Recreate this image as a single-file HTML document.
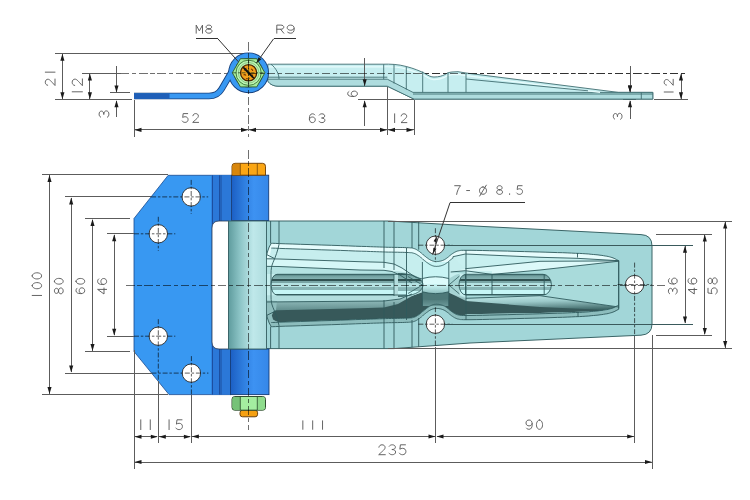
<!DOCTYPE html><html><head><meta charset="utf-8"><style>html,body{margin:0;padding:0;background:#fff;overflow:hidden}svg{display:block}</style></head><body>
<svg width="750" height="500" viewBox="0 0 750 500">
<rect width="750" height="500" fill="#fff"/>
<defs>
<linearGradient id="kn" x1="0" x2="1" y1="0" y2="0"><stop offset="0" stop-color="#1c5fc4"/><stop offset="0.35" stop-color="#2f7fe0"/><stop offset="0.6" stop-color="#3d92f2"/><stop offset="1" stop-color="#3587e8"/></linearGradient>
<linearGradient id="knc" x1="0" x2="1" y1="0" y2="0"><stop offset="0" stop-color="#5f9c9e"/><stop offset="0.3" stop-color="#8cc4c6"/><stop offset="0.65" stop-color="#bfe8ea"/><stop offset="1" stop-color="#aedcde"/></linearGradient>
</defs>
<line x1="55" y1="53.3" x2="248" y2="53.3" stroke="#5c5c5c" stroke-width="1.0"  shape-rendering="crispEdges"/>
<line x1="82.4" y1="73" x2="120.8" y2="73" stroke="#5c5c5c" stroke-width="1.0"  shape-rendering="crispEdges"/>
<line x1="120.8" y1="73" x2="688" y2="73" stroke="#000" stroke-width="1.0" stroke-dasharray="8.5 2.8 4.2 2.8" stroke-opacity="0.56" shape-rendering="crispEdges"/>
<line x1="55" y1="99.7" x2="132" y2="99.7" stroke="#5c5c5c" stroke-width="1.0"  shape-rendering="crispEdges"/>
<line x1="109.6" y1="92.7" x2="130.4" y2="92.7" stroke="#5c5c5c" stroke-width="1.0"  shape-rendering="crispEdges"/>
<line x1="62.4" y1="54" x2="62.4" y2="99" stroke="#5c5c5c" stroke-width="1.0"  shape-rendering="crispEdges"/>
<path d="M62.40,53.80 L64.45,60.80 L60.35,60.80 Z" fill="#1a1a1a"/>
<path d="M62.40,99.20 L60.35,92.20 L64.45,92.20 Z" fill="#1a1a1a"/>
<line x1="89.9" y1="73.5" x2="89.9" y2="99" stroke="#5c5c5c" stroke-width="1.0"  shape-rendering="crispEdges"/>
<path d="M89.90,73.50 L91.95,80.50 L87.85,80.50 Z" fill="#1a1a1a"/>
<path d="M89.90,99.20 L87.85,92.20 L91.95,92.20 Z" fill="#1a1a1a"/>
<line x1="116.5" y1="65.8" x2="116.5" y2="92" stroke="#5c5c5c" stroke-width="1.0"  shape-rendering="crispEdges"/>
<path d="M116.50,92.50 L114.45,85.50 L118.55,85.50 Z" fill="#1a1a1a"/>
<line x1="116.5" y1="100.5" x2="116.5" y2="117" stroke="#5c5c5c" stroke-width="1.0"  shape-rendering="crispEdges"/>
<path d="M116.50,100.20 L118.55,107.20 L114.45,107.20 Z" fill="#1a1a1a"/>
<g fill="none" stroke="#5c5c5c" stroke-width="0.95" stroke-linecap="round" stroke-linejoin="round" transform="translate(45.30,85.50) rotate(-90)">
<path transform="translate(0.00,0) scale(1.078,1.078)" d="M0.2,2.2 C0.5,0.5 1.8,0 3,0 C4.6,0 5.8,0.9 5.8,2.4 C5.8,4.2 4,5.2 0,9 H6" vector-effect="non-scaling-stroke"/>
<path transform="translate(10.10,0) scale(1.078,1.078)" d="M3,0 V9" vector-effect="non-scaling-stroke"/>
</g>
<g fill="none" stroke="#5c5c5c" stroke-width="0.95" stroke-linecap="round" stroke-linejoin="round" transform="translate(72.20,95.20) rotate(-90)">
<path transform="translate(0.00,0) scale(1.133,1.133)" d="M3,0 V9" vector-effect="non-scaling-stroke"/>
<path transform="translate(9.50,0) scale(1.133,1.133)" d="M0.2,2.2 C0.5,0.5 1.8,0 3,0 C4.6,0 5.8,0.9 5.8,2.4 C5.8,4.2 4,5.2 0,9 H6" vector-effect="non-scaling-stroke"/>
</g>
<g fill="none" stroke="#5c5c5c" stroke-width="0.95" stroke-linecap="round" stroke-linejoin="round" transform="translate(99.10,117.30) rotate(-90)">
<path transform="translate(0.00,0) scale(1.067,1.089)" d="M0.2,1.3 C0.8,0.4 1.8,0 3,0 C4.8,0 5.8,1 5.8,2.2 C5.8,3.5 4.6,4.3 2.6,4.3 C4.8,4.3 6,5.2 6,6.6 C6,8.1 4.7,9 3,9 C1.6,9 0.6,8.5 0,7.6" vector-effect="non-scaling-stroke"/>
</g>
<line x1="134.1" y1="100" x2="134.1" y2="136.5" stroke="#5c5c5c" stroke-width="1.0"  shape-rendering="crispEdges"/>
<line x1="387.6" y1="86" x2="387.6" y2="135" stroke="#5c5c5c" stroke-width="1.0"  shape-rendering="crispEdges"/>
<line x1="414" y1="99.5" x2="414" y2="135" stroke="#5c5c5c" stroke-width="1.0"  shape-rendering="crispEdges"/>
<line x1="134.5" y1="129.9" x2="248" y2="129.9" stroke="#5c5c5c" stroke-width="1.0"  shape-rendering="crispEdges"/>
<path d="M134.50,129.90 L141.50,127.85 L141.50,131.95 Z" fill="#1a1a1a"/>
<path d="M248.00,129.90 L241.00,131.95 L241.00,127.85 Z" fill="#1a1a1a"/>
<line x1="249" y1="129.9" x2="387" y2="129.9" stroke="#5c5c5c" stroke-width="1.0"  shape-rendering="crispEdges"/>
<path d="M249.00,129.90 L256.00,127.85 L256.00,131.95 Z" fill="#1a1a1a"/>
<path d="M387.00,129.90 L380.00,131.95 L380.00,127.85 Z" fill="#1a1a1a"/>
<line x1="388" y1="129.9" x2="413.5" y2="129.9" stroke="#5c5c5c" stroke-width="1.0"  shape-rendering="crispEdges"/>
<path d="M388.00,129.90 L395.00,127.85 L395.00,131.95 Z" fill="#1a1a1a"/>
<path d="M413.50,129.90 L406.50,131.95 L406.50,127.85 Z" fill="#1a1a1a"/>
<g fill="none" stroke="#5c5c5c" stroke-width="0.95" stroke-linecap="round" stroke-linejoin="round" transform="translate(182.20,113.60)">
<path transform="translate(0.00,0) scale(0.978,0.978)" d="M5.6,0 H1 L0.5,4 C1.2,3.5 2,3.2 3,3.2 C4.8,3.2 6,4.4 6,6.1 C6,7.9 4.7,9 3,9 C1.6,9 0.6,8.5 0,7.6" vector-effect="non-scaling-stroke"/>
<path transform="translate(10.50,0) scale(0.978,0.978)" d="M0.2,2.2 C0.5,0.5 1.8,0 3,0 C4.6,0 5.8,0.9 5.8,2.4 C5.8,4.2 4,5.2 0,9 H6" vector-effect="non-scaling-stroke"/>
</g>
<g fill="none" stroke="#5c5c5c" stroke-width="0.95" stroke-linecap="round" stroke-linejoin="round" transform="translate(309.40,113.80)">
<path transform="translate(0.00,0) scale(0.978,0.978)" d="M5.6,1.1 C5,0.4 4.1,0 3,0 C1,0 0,1.9 0,4.8 C0,7.5 1,9 3,9 C4.8,9 6,7.8 6,6.1 C6,4.4 4.8,3.3 3,3.3 C1.4,3.3 0.3,4.3 0,5.5" vector-effect="non-scaling-stroke"/>
<path transform="translate(9.60,0) scale(0.978,0.978)" d="M0.2,1.3 C0.8,0.4 1.8,0 3,0 C4.8,0 5.8,1 5.8,2.2 C5.8,3.5 4.6,4.3 2.6,4.3 C4.8,4.3 6,5.2 6,6.6 C6,8.1 4.7,9 3,9 C1.6,9 0.6,8.5 0,7.6" vector-effect="non-scaling-stroke"/>
</g>
<g fill="none" stroke="#5c5c5c" stroke-width="0.95" stroke-linecap="round" stroke-linejoin="round" transform="translate(391.70,113.80)">
<path transform="translate(0.00,0) scale(0.978,0.978)" d="M3,0 V9" vector-effect="non-scaling-stroke"/>
<path transform="translate(9.30,0) scale(0.978,0.978)" d="M0.2,2.2 C0.5,0.5 1.8,0 3,0 C4.6,0 5.8,0.9 5.8,2.4 C5.8,4.2 4,5.2 0,9 H6" vector-effect="non-scaling-stroke"/>
</g>
<line x1="364.7" y1="58.3" x2="364.7" y2="86" stroke="#5c5c5c" stroke-width="1.0"  shape-rendering="crispEdges"/>
<path d="M364.70,86.30 L362.65,79.30 L366.75,79.30 Z" fill="#1a1a1a"/>
<line x1="357.6" y1="99.5" x2="414" y2="99.5" stroke="#5c5c5c" stroke-width="1.0"  shape-rendering="crispEdges"/>
<line x1="364.7" y1="100.5" x2="364.7" y2="126" stroke="#5c5c5c" stroke-width="1.0"  shape-rendering="crispEdges"/>
<path d="M364.70,100.20 L366.75,107.20 L362.65,107.20 Z" fill="#1a1a1a"/>
<g fill="none" stroke="#5c5c5c" stroke-width="0.95" stroke-linecap="round" stroke-linejoin="round" transform="translate(347.70,96.50) rotate(-90)">
<path transform="translate(0.00,0) scale(0.900,1.078)" d="M5.6,1.1 C5,0.4 4.1,0 3,0 C1,0 0,1.9 0,4.8 C0,7.5 1,9 3,9 C4.8,9 6,7.8 6,6.1 C6,4.4 4.8,3.3 3,3.3 C1.4,3.3 0.3,4.3 0,5.5" vector-effect="non-scaling-stroke"/>
</g>
<line x1="623" y1="99.4" x2="636" y2="99.4" stroke="#5c5c5c" stroke-width="1.0"  shape-rendering="crispEdges"/>
<line x1="630" y1="66" x2="630" y2="92" stroke="#5c5c5c" stroke-width="1.0"  shape-rendering="crispEdges"/>
<path d="M630.00,92.60 L627.95,85.60 L632.05,85.60 Z" fill="#1a1a1a"/>
<line x1="630" y1="100.5" x2="630" y2="119" stroke="#5c5c5c" stroke-width="1.0"  shape-rendering="crispEdges"/>
<path d="M630.00,100.20 L632.05,107.20 L627.95,107.20 Z" fill="#1a1a1a"/>
<g fill="none" stroke="#5c5c5c" stroke-width="0.95" stroke-linecap="round" stroke-linejoin="round" transform="translate(613.30,119.30) rotate(-90)">
<path transform="translate(0.00,0) scale(1.000,0.967)" d="M0.2,1.3 C0.8,0.4 1.8,0 3,0 C4.8,0 5.8,1 5.8,2.2 C5.8,3.5 4.6,4.3 2.6,4.3 C4.8,4.3 6,5.2 6,6.6 C6,8.1 4.7,9 3,9 C1.6,9 0.6,8.5 0,7.6" vector-effect="non-scaling-stroke"/>
</g>
<line x1="654" y1="99.4" x2="688" y2="99.4" stroke="#5c5c5c" stroke-width="1.0"  shape-rendering="crispEdges"/>
<line x1="681" y1="73.5" x2="681" y2="99" stroke="#5c5c5c" stroke-width="1.0"  shape-rendering="crispEdges"/>
<path d="M681.00,73.50 L683.05,80.50 L678.95,80.50 Z" fill="#1a1a1a"/>
<path d="M681.00,99.20 L678.95,92.20 L683.05,92.20 Z" fill="#1a1a1a"/>
<g fill="none" stroke="#5c5c5c" stroke-width="0.95" stroke-linecap="round" stroke-linejoin="round" transform="translate(664.20,95.00) rotate(-90)">
<path transform="translate(0.00,0) scale(1.000,1.000)" d="M3,0 V9" vector-effect="non-scaling-stroke"/>
<path transform="translate(9.70,0) scale(1.000,1.000)" d="M0.2,2.2 C0.5,0.5 1.8,0 3,0 C4.6,0 5.8,0.9 5.8,2.4 C5.8,4.2 4,5.2 0,9 H6" vector-effect="non-scaling-stroke"/>
</g>
<path d="M267.8,64.2 H383.3 C390,64 398,64.2 406.3,66.5 C414,68.5 420,71 425,73.5 C429,76 431,77 434,77 C439,77 442,76 445,74.5 C447,73 449,72.3 452,72 L458,71.7 L466,73 L618.4,92.4 H652.8 V99.1 H414 L387.3,86.2 H278 C272,86 268.5,83 267.8,80.6 Z" fill="#c6eef0" stroke="#3f6d70" stroke-width="0.9" stroke-linejoin="round"/>
<path d="M267.8,79.2 H387.3 L413,92.4 H652.8 V99.1 H414 L387.3,86.2 H278 C272,86 268.5,83 267.8,80.6 Z" fill="#aedcde" stroke="#3f6d70" stroke-width="0.9" stroke-linejoin="round"/>
<path d="M269,66.8 H383.3 C390,66.6 398,66.8 406.3,69.1 C414,71 420,73.6 425,76 C429,78.6 431,79.6 434,79.6 C439,79.6 442,78.6 445,77.1 C447,75.6 449,74.9 452,74.6 L458,74.3 L466,75.6 L600,92.4" fill="none" stroke="#e8fcfc" stroke-width="1.2"/>
<path d="M268,77.2 H387.3 M413,94 H652.8 M466,79 L588,90.8 M383.7,64.2 V79.2 M394,64.4 V83.5 M406.3,66.5 V89.6 M422.7,71.5 V92.4 M448,72.6 V92.4 M466,73 V92.4 M641.3,92.4 V99.1 M271,64.2 C276,68 279,74 279,79" fill="none" stroke="#3f6d70" stroke-width="0.9" stroke-linejoin="round"/>
<line x1="364.7" y1="58.3" x2="364.7" y2="86" stroke="#5c5c5c" stroke-width="1.0"  shape-rendering="crispEdges"/>
<path d="M364.70,86.30 L362.65,79.30 L366.75,79.30 Z" fill="#1a1a1a"/>
<line x1="630" y1="66" x2="630" y2="92" stroke="#5c5c5c" stroke-width="1.0"  shape-rendering="crispEdges"/>
<path d="M630.00,92.60 L627.95,85.60 L632.05,85.60 Z" fill="#1a1a1a"/>
<path d="M134,96 H209 Q217.5,96 221.5,89.2 L236,64.5" fill="none" stroke="#173f7a" stroke-width="6.6"/>
<circle cx="248.6" cy="72.8" r="17.1" fill="none" stroke="#173f7a" stroke-width="6.6"/>
<path d="M134,96 H209 Q217.5,96 221.5,89.2 L236,64.5" fill="none" stroke="#3898f2" stroke-width="4.8"/>
<circle cx="248.6" cy="72.8" r="17.1" fill="none" stroke="#3898f2" stroke-width="4.8"/>
<rect x="134" y="93.6" width="35.5" height="5.2" fill="#1f5fb8"/>
<polygon points="264.90,72.80 256.75,86.92 240.45,86.92 232.30,72.80 240.45,58.68 256.75,58.68" fill="#a4ec9c" stroke="#2c5a28" stroke-width="0.9"/>
<circle cx="248.6" cy="72.8" r="12.6" fill="#bdf6b4" stroke="#3a7434" stroke-width="0.9"/>
<circle cx="248.6" cy="72.8" r="10.3" fill="none" stroke="#6aa864" stroke-width="0.6"/>
<circle cx="248.6" cy="72.8" r="8.1" fill="#f2a01c" stroke="#4a2200" stroke-width="1.3"/>
<path d="M243.5,75 q1.5,-1 2.5,0.5 M251,69 q1.6,0.4 1.8,2 M246,78.5 q2,0.8 3.6,-0.4 M252.5,74.5 q0.6,1.6 -0.6,3 M244.2,70.5 q0.6,-2 2.4,-2.6" fill="none" stroke="#7a3a00" stroke-width="1.1"/>
<path d="M243.8,67.9 L248.6,72.2 L253.4,77.7 L249,73.6 Z" fill="#111" stroke="#111" stroke-width="1.6" stroke-linejoin="round"/>
<path d="M248.6,59 V86.6 M232.5,72.8 H264.7" stroke="#1e3a1a" stroke-width="0.7" stroke-dasharray="4 1.5 2 1.5"/>
<line x1="248.6" y1="42" x2="248.6" y2="136.5" stroke="#000" stroke-width="1.0" stroke-dasharray="8.5 2.8 4.2 2.8" stroke-opacity="0.56" shape-rendering="crispEdges"/>
<line x1="248.6" y1="73" x2="688" y2="73" stroke="#000" stroke-width="1.0" stroke-dasharray="8.5 2.8 4.2 2.8" stroke-opacity="0.56" shape-rendering="crispEdges"/>
<line x1="195.9" y1="38.8" x2="217.9" y2="38.8" stroke="#333" stroke-width="1.0"  shape-rendering="crispEdges"/>
<line x1="217.9" y1="38.8" x2="238.4" y2="61.8" stroke="#333" stroke-width="1.0" />
<line x1="273.6" y1="38.8" x2="295.6" y2="38.8" stroke="#333" stroke-width="1.0"  shape-rendering="crispEdges"/>
<line x1="273.6" y1="38.8" x2="256.4" y2="63" stroke="#333" stroke-width="1.0" />
<path d="M256.40,63.20 L258.43,57.27 L261.36,59.37 Z" fill="#1a1a1a"/>
<g fill="none" stroke="#5c5c5c" stroke-width="0.95" stroke-linecap="round" stroke-linejoin="round" transform="translate(196.20,25.10)">
<path transform="translate(0.00,0) scale(1.050,0.900)" d="M0,9 V0 L3,6.5 L6,0 V9" vector-effect="non-scaling-stroke"/>
<path transform="translate(9.50,0) scale(1.050,0.900)" d="M3,4.2 C1.3,4.2 0.4,3.3 0.4,2.1 C0.4,0.8 1.5,0 3,0 C4.5,0 5.6,0.8 5.6,2.1 C5.6,3.3 4.7,4.2 3,4.2 C1,4.2 0,5.3 0,6.6 C0,8 1.3,9 3,9 C4.7,9 6,8 6,6.6 C6,5.3 5,4.2 3,4.2 Z" vector-effect="non-scaling-stroke"/>
</g>
<g fill="none" stroke="#5c5c5c" stroke-width="0.95" stroke-linecap="round" stroke-linejoin="round" transform="translate(276.80,25.10)">
<path transform="translate(0.00,0) scale(1.167,0.900)" d="M0,9 V0 H3.4 C5,0 6,0.9 6,2.3 C6,3.7 5,4.6 3.4,4.6 H0 M3.2,4.6 L6,9" vector-effect="non-scaling-stroke"/>
<path transform="translate(10.40,0) scale(1.167,0.900)" d="M0.4,7.9 C1,8.6 1.9,9 3,9 C5,9 6,7.1 6,4.2 C6,1.5 5,0 3,0 C1.2,0 0,1.2 0,2.9 C0,4.6 1.2,5.7 3,5.7 C4.6,5.7 5.7,4.7 6,3.5" vector-effect="non-scaling-stroke"/>
</g>
<path d="M262,221 H388.7 L470,225.8 L641,234.6 Q652,235 652,246 V324 Q652,334.5 641,335.2 L470,343 L394,348.6 H262 Z" fill="#a2d6d8" stroke="#3a6466" stroke-width="1"/>
<defs><clipPath id="fc"><polygon points="264.5,285.0 264.5,270.0 264.9,264.0 265.9,258.0 267.4,252.0 269.2,247.0 271.3,243.3 272.7,243.3 275.5,243.4 279.6,243.6 285.2,243.8 292.1,244.0 300.4,244.3 310.1,244.6 321.2,245.0 331.3,245.3 340.3,245.6 348.4,245.9 355.4,246.2 361.5,246.4 366.5,246.5 370.5,246.7 373.5,246.8 376.5,246.9 379.5,247.0 382.5,247.1 385.5,247.2 388.5,247.3 391.5,247.3 394.5,247.4 397.5,247.4 400.2,247.5 402.7,247.5 404.8,247.6 406.7,247.7 408.3,247.7 409.6,247.8 410.6,247.9 411.4,247.9 412.1,248.0 412.8,248.2 413.5,248.4 414.2,248.6 414.9,248.8 415.5,249.1 416.2,249.4 416.8,249.8 417.4,250.2 418.1,250.6 418.7,251.0 419.3,251.4 419.9,251.9 420.6,252.4 421.2,253.0 421.8,253.5 422.5,254.1 423.1,254.7 423.8,255.2 424.5,255.8 425.2,256.3 425.9,256.9 426.6,257.5 427.4,258.0 428.1,258.6 428.8,259.0 429.5,259.5 430.2,259.9 430.9,260.2 431.5,260.5 432.2,260.8 432.8,261.0 433.5,261.2 434.1,261.4 434.8,261.5 435.5,261.5 436.2,261.6 436.9,261.6 437.6,261.5 438.4,261.5 439.1,261.4 439.8,261.2 440.5,261.1 441.2,260.9 441.9,260.7 442.5,260.5 443.2,260.2 443.8,260.0 444.4,259.7 445.1,259.3 445.7,258.9 446.3,258.5 446.9,258.0 447.6,257.6 448.2,257.0 448.8,256.5 449.5,255.9 450.1,255.4 450.8,254.9 451.5,254.3 452.2,253.8 452.9,253.4 453.6,252.9 454.4,252.4 455.2,252.0 456.0,251.6 456.8,251.3 457.7,251.0 458.7,250.8 459.6,250.6 460.6,250.4 461.7,250.3 463.7,250.3 466.9,250.3 471.0,250.3 476.2,250.4 482.4,250.5 489.7,250.7 498.0,250.9 507.3,251.1 516.1,251.4 524.4,251.6 532.1,251.8 539.2,252.0 545.9,252.2 552.0,252.4 557.5,252.6 562.5,252.7 567.2,252.9 571.6,253.1 575.6,253.3 579.4,253.4 582.8,253.6 585.9,253.8 588.8,254.0 591.2,254.3 593.6,254.5 595.9,254.7 598.0,254.9 600.0,255.2 601.9,255.4 603.6,255.7 605.2,256.0 606.8,256.2 608.2,256.5 609.5,256.8 610.8,257.2 611.9,257.5 613.0,257.9 614.0,258.3 614.9,258.7 615.8,259.2 616.5,259.6 617.1,259.9 617.7,260.2 618.1,260.4 618.4,260.5 618.6,260.6 618.7,260.7 618.7,309.3 618.7,309.3 618.6,309.4 618.4,309.5 618.1,309.6 617.7,309.8 617.1,310.1 616.5,310.4 615.8,310.8 614.9,311.3 614.0,311.7 613.0,312.1 611.9,312.5 610.8,312.8 609.5,313.2 608.2,313.5 606.8,313.8 605.2,314.0 603.6,314.3 601.9,314.6 600.0,314.8 598.0,315.1 595.9,315.3 593.6,315.5 591.2,315.7 588.8,316.0 585.9,316.2 582.8,316.4 579.4,316.6 575.6,316.7 571.6,316.9 567.2,317.1 562.5,317.3 557.5,317.4 552.0,317.6 545.9,317.8 539.2,318.0 532.1,318.2 524.4,318.4 516.1,318.6 507.3,318.9 498.0,319.1 489.7,319.3 482.4,319.5 476.2,319.6 471.0,319.7 466.9,319.7 463.7,319.7 461.7,319.6 460.6,319.6 459.6,319.4 458.7,319.2 457.7,319.0 456.8,318.7 456.0,318.4 455.2,318.0 454.4,317.6 453.6,317.1 452.9,316.6 452.2,316.2 451.5,315.7 450.8,315.1 450.1,314.6 449.5,314.1 448.8,313.5 448.2,313.0 447.6,312.4 446.9,312.0 446.3,311.5 445.7,311.1 445.1,310.7 444.4,310.3 443.8,310.0 443.2,309.8 442.5,309.5 441.9,309.3 441.2,309.1 440.5,308.9 439.8,308.8 439.1,308.6 438.4,308.5 437.6,308.5 436.9,308.4 436.2,308.4 435.5,308.5 434.8,308.5 434.1,308.6 433.5,308.8 432.8,309.0 432.2,309.2 431.5,309.5 430.9,309.8 430.2,310.1 429.5,310.5 428.8,311.0 428.1,311.4 427.4,312.0 426.6,312.5 425.9,313.1 425.2,313.7 424.5,314.2 423.8,314.8 423.1,315.3 422.5,315.9 421.8,316.5 421.2,317.0 420.6,317.6 419.9,318.1 419.3,318.6 418.7,319.0 418.1,319.4 417.4,319.8 416.8,320.2 416.2,320.6 415.5,320.9 414.9,321.2 414.2,321.4 413.5,321.6 412.8,321.8 412.1,322.0 411.4,322.1 410.6,322.1 409.6,322.2 408.3,322.3 406.7,322.3 404.8,322.4 402.7,322.5 400.2,322.5 397.5,322.6 394.5,322.6 391.5,322.7 388.5,322.7 385.5,322.8 382.5,322.9 379.5,323.0 376.5,323.1 373.5,323.2 370.5,323.3 366.5,323.5 361.5,323.6 355.4,323.8 348.4,324.1 340.3,324.4 331.3,324.7 321.2,325.0 310.1,325.4 300.4,325.7 292.1,326.0 285.2,326.2 279.6,326.4 275.5,326.6 272.7,326.7 271.3,326.7 269.2,323.0 267.4,318.0 265.9,312.0 264.9,306.0 264.5,300.0"/></clipPath>
<linearGradient id="gdk" x1="0" y1="0" x2="0" y2="1"><stop offset="0" stop-color="#b6e0e0"/><stop offset="1" stop-color="#5a8686"/></linearGradient>
<linearGradient id="gdk2" x1="0" y1="0" x2="0.3" y2="1"><stop offset="0" stop-color="#c4eaea"/><stop offset="0.45" stop-color="#9ccaca"/><stop offset="1" stop-color="#3f6868"/></linearGradient>
<linearGradient id="gslot" x1="0" y1="0" x2="0" y2="1"><stop offset="0" stop-color="#3a6262"/><stop offset="0.05" stop-color="#3a6262"/><stop offset="0.06" stop-color="#6f9e9e"/><stop offset="0.24" stop-color="#86b4b4"/><stop offset="0.25" stop-color="#2f5050"/><stop offset="0.33" stop-color="#2f5050"/><stop offset="0.34" stop-color="#7aa6a6"/><stop offset="0.42" stop-color="#7aa6a6"/><stop offset="0.43" stop-color="#b4e2e2"/><stop offset="0.6" stop-color="#b4e2e2"/><stop offset="0.61" stop-color="#88b6b6"/><stop offset="0.75" stop-color="#88b6b6"/><stop offset="0.76" stop-color="#c6f6f6"/><stop offset="0.95" stop-color="#c6f6f6"/><stop offset="0.96" stop-color="#3a6262"/><stop offset="1" stop-color="#3a6262"/></linearGradient>
<linearGradient id="gneck" x1="0" y1="0" x2="0" y2="1"><stop offset="0" stop-color="#d4f8f8"/><stop offset="0.3" stop-color="#c0ecec"/><stop offset="0.5" stop-color="#98c8c8"/><stop offset="0.75" stop-color="#4f7a7a"/><stop offset="1" stop-color="#6a9898"/></linearGradient>
<linearGradient id="gwedge" x1="0" y1="0" x2="1" y2="0"><stop offset="0" stop-color="#2f4e4e"/><stop offset="0.6" stop-color="#3c5e5e"/><stop offset="1" stop-color="#8ab8b8"/></linearGradient>
</defs>
<g clip-path="url(#fc)">
<rect x="260" y="240" width="365" height="90" fill="#c6eeee"/>
<polygon points="264.5,285.0 264.5,270.0 264.9,264.0 265.9,258.0 267.4,252.0 269.2,247.0 271.3,243.3 271.3,243.3 272.7,243.3 275.5,243.4 279.6,243.6 285.2,243.8 292.1,244.0 300.4,244.3 310.1,244.6 321.2,245.0 331.3,245.3 340.3,245.6 348.4,245.9 355.4,246.2 361.5,246.4 366.5,246.5 370.5,246.7 373.5,246.8 376.5,246.9 379.5,247.0 382.5,247.1 385.5,247.2 388.5,247.3 391.5,247.3 394.5,247.4 397.5,247.4 400.2,247.5 402.7,247.5 404.8,247.6 406.7,247.7 408.3,247.7 409.6,247.8 410.6,247.9 411.4,247.9 412.1,248.0 412.8,248.2 413.5,248.4 414.2,248.6 414.9,248.8 415.5,249.1 416.2,249.4 416.8,249.8 417.4,250.2 418.1,250.6 418.7,251.0 419.3,251.4 419.9,251.9 420.6,252.4 421.2,253.0 421.8,253.5 422.5,254.1 423.1,254.7 423.8,255.2 424.5,255.8 425.2,256.3 425.9,256.9 426.6,257.5 427.4,258.0 428.1,258.6 428.8,259.0 429.5,259.5 430.2,259.9 430.9,260.2 431.5,260.5 432.2,260.8 432.8,261.0 433.5,261.2 434.1,261.4 434.8,261.5 435.5,261.5 436.2,261.6 436.9,261.6 437.6,261.5 438.4,261.5 439.1,261.4 439.8,261.2 440.5,261.1 441.2,260.9 441.9,260.7 442.5,260.5 443.2,260.2 443.8,260.0 444.4,259.7 445.1,259.3 445.7,258.9 446.3,258.5 446.9,258.0 447.6,257.6 448.2,257.0 448.8,256.5 449.5,255.9 450.1,255.4 450.8,254.9 451.5,254.3 452.2,253.8 452.9,253.4 453.6,252.9 454.4,252.4 455.2,252.0 456.0,251.6 456.8,251.3 457.7,251.0 458.7,250.8 459.6,250.6 460.6,250.4 461.7,250.3 463.7,250.3 466.9,250.3 471.0,250.3 476.2,250.4 482.4,250.5 489.7,250.7 498.0,250.9 507.3,251.1 516.1,251.4 524.4,251.6 532.1,251.8 539.2,252.0 545.9,252.2 552.0,252.4 557.5,252.6 562.5,252.7 567.2,252.9 571.6,253.1 575.6,253.3 579.4,253.4 582.8,253.6 585.9,253.8 588.8,254.0 591.2,254.3 593.6,254.5 595.9,254.7 598.0,254.9 600.0,255.2 601.9,255.4 603.6,255.7 605.2,256.0 606.8,256.2 608.2,256.5 609.5,256.8 610.8,257.2 611.9,257.5 613.0,257.9 614.0,258.3 614.9,258.7 615.8,259.2 616.5,259.6 617.1,259.9 617.7,260.2 618.1,260.4 618.4,260.5 618.6,260.6 618.7,260.7 618.7,265.5 618.6,265.4 618.4,265.3 618.1,265.2 617.7,265.0 617.1,264.7 616.5,264.4 615.8,264.0 614.9,263.5 614.0,263.1 613.0,262.7 611.9,262.3 610.8,262.0 609.5,261.6 608.2,261.3 606.8,261.0 605.2,260.8 603.6,260.5 601.9,260.2 600.0,260.0 598.0,259.7 595.9,259.5 593.6,259.3 591.2,259.1 588.8,258.8 585.9,258.6 582.8,258.4 579.4,258.2 575.6,258.1 571.6,257.9 567.2,257.7 562.5,257.5 557.5,257.4 552.0,257.2 545.9,257.0 539.2,256.8 532.1,256.6 524.4,256.4 516.1,256.2 507.3,255.9 498.0,255.7 489.7,255.5 482.4,255.3 476.2,255.2 471.0,255.1 466.9,255.1 463.7,255.1 461.7,255.2 460.6,255.2 459.6,255.4 458.7,255.6 457.7,255.8 456.8,256.1 456.0,256.4 455.2,256.8 454.4,257.2 453.6,257.7 452.9,258.2 452.2,258.6 451.5,259.1 450.8,259.7 450.1,260.2 449.5,260.7 448.8,261.3 448.2,261.8 447.6,262.4 446.9,262.8 446.3,263.3 445.7,263.7 445.1,264.1 444.4,264.5 443.8,264.8 443.2,265.0 442.5,265.3 441.9,265.5 441.2,265.7 440.5,265.9 439.8,266.0 439.1,266.2 438.4,266.3 437.6,266.3 436.9,266.4 436.2,266.4 435.5,266.3 434.8,266.3 434.1,266.2 433.5,266.0 432.8,265.8 432.2,265.6 431.5,265.3 430.9,265.0 430.2,264.7 429.5,264.3 428.8,263.8 428.1,263.4 427.4,262.8 426.6,262.3 425.9,261.7 425.2,261.1 424.5,260.6 423.8,260.0 423.1,259.5 422.5,258.9 421.8,258.3 421.2,257.8 420.6,257.2 419.9,256.7 419.3,256.2 418.7,255.8 418.1,255.4 417.4,255.0 416.8,254.6 416.2,254.2 415.5,253.9 414.9,253.6 414.2,253.4 413.5,253.2 412.8,253.0 412.1,252.8 411.4,252.7 410.6,252.7 409.6,252.6 408.3,252.5 406.7,252.5 404.8,252.4 402.7,252.3 400.2,252.3 397.5,252.2 394.5,252.2 391.5,252.1 388.5,252.1 385.5,252.0 382.5,251.9 379.5,251.8 376.5,251.7 373.5,251.6 370.5,251.5 366.5,251.3 361.5,251.2 355.4,251.0 348.4,250.7 340.3,250.4 331.3,250.1 321.2,249.8 310.1,249.4 300.4,249.1 292.1,248.8 285.2,248.6 279.6,248.4 275.5,248.2 272.7,248.1 271.3,248.1" fill="#e6fcfc"/>
<polygon points="262.0,258.7 279.0,259.0 360.0,261.7 384.0,262.3 394.0,264.0 402.0,268.0 410.0,273.5 416.0,277.5 422.4,279.0 412.0,283.0 406.0,279.0 400.0,275.0 392.0,271.5 384.0,270.3 360.0,270.0 279.0,266.5 262.0,266.3" fill="#d6f7f7"/>
<polygon points="262.0,266.3 279.0,266.5 360.0,270.0 384.0,270.3 392.0,271.5 400.0,275.0 406.0,279.0 412.0,283.0 412.0,274.0 262.0,274.0" fill="#b4e2e2"/>
<polygon points="262,295.3 406,295.3 412,291 422.4,291.8 448.8,291.8 466,297 540,295.7 618.7,307 618.7,330 262,330" fill="#b2dede"/>
<polygon points="262,302 384,301 400,299 412,294 422.4,292 448.8,292 466,298.3 466,312 384,310 262,311" fill="url(#gdk)"/>
<polygon points="466,298.3 540,295.7 618.7,307 618.7,312 540,309 466,302" fill="url(#gdk2)"/>
<polygon points="262,300 277,301 276,310.3 273.2,311.8 271.8,315.5 273,319.5 276,321.3 278,330 262,330" fill="#8fbdbd"/>
<polygon points="276.0,310.3 300.0,309.8 360.0,308.3 384.0,307.5 398.0,304.0 406.7,299.0 414.0,295.0 422.7,292.3 448.0,292.3 456.0,296.0 466.0,301.0 540.0,307.0 590.0,309.3 614.0,310.6 590.0,311.6 540.0,313.0 466.0,314.2 463.7,315.5 461.7,315.4 460.6,315.4 459.6,315.2 458.7,315.0 457.7,314.8 456.8,314.5 456.0,314.2 455.2,313.8 454.4,313.4 453.6,312.9 452.9,312.4 452.2,312.0 451.5,311.5 450.8,310.9 450.1,310.4 449.5,309.9 448.8,309.3 448.2,308.8 447.6,308.2 446.9,307.8 446.3,307.3 445.7,306.9 445.1,306.5 444.4,306.1 443.8,305.8 443.2,305.6 442.5,305.3 441.9,305.1 441.2,304.9 440.5,304.7 439.8,304.6 439.1,304.4 438.4,304.3 437.6,304.3 436.9,304.2 436.2,304.2 435.5,304.3 434.8,304.3 434.1,304.4 433.5,304.6 432.8,304.8 432.2,305.0 431.5,305.3 430.9,305.6 430.2,305.9 429.5,306.3 428.8,306.8 428.1,307.2 427.4,307.8 426.6,308.3 425.9,308.9 425.2,309.5 424.5,310.0 423.8,310.6 423.1,311.1 422.5,311.7 421.8,312.3 421.2,312.8 420.6,313.4 419.9,313.9 419.3,314.4 418.7,314.8 418.1,315.2 417.4,315.6 416.8,316.0 416.2,316.4 415.5,316.7 414.9,317.0 414.2,317.2 413.5,317.4 412.8,317.6 412.1,317.8 411.4,317.9 410.6,317.9 409.6,318.0 408.3,318.1 406.7,318.1 404.8,318.2 402.7,318.3 400.2,318.3 397.5,318.4 394.5,318.4 391.5,318.5 388.5,318.5 385.5,318.6 382.5,318.7 379.5,318.8 376.5,318.9 373.5,319.0 370.5,319.1 366.5,319.3 361.5,319.4 355.4,319.6 348.4,319.9 340.3,320.2 331.3,320.5 321.2,320.8 310.1,321.2 300.4,321.5 292.1,321.8 285.2,322.0 279.6,322.2 276.0,321.3 273.0,319.5 271.8,315.5 273.2,311.8" fill="#37595a"/>
<polygon points="271.3,322.5 272.7,322.5 275.5,322.4 279.6,322.2 285.2,322.0 292.1,321.8 300.4,321.5 310.1,321.2 321.2,320.8 331.3,320.5 340.3,320.2 348.4,319.9 355.4,319.6 361.5,319.4 366.5,319.3 370.5,319.1 373.5,319.0 376.5,318.9 379.5,318.8 382.5,318.7 385.5,318.6 388.5,318.5 391.5,318.5 394.5,318.4 397.5,318.4 400.2,318.3 402.7,318.3 404.8,318.2 406.7,318.1 408.3,318.1 409.6,318.0 410.6,317.9 411.4,317.9 412.1,317.8 412.8,317.6 413.5,317.4 414.2,317.2 414.9,317.0 415.5,316.7 416.2,316.4 416.8,316.0 417.4,315.6 418.1,315.2 418.7,314.8 419.3,314.4 419.9,313.9 420.6,313.4 421.2,312.8 421.8,312.3 422.5,311.7 423.1,311.1 423.8,310.6 424.5,310.0 425.2,309.5 425.9,308.9 426.6,308.3 427.4,307.8 428.1,307.2 428.8,306.8 429.5,306.3 430.2,305.9 430.9,305.6 431.5,305.3 432.2,305.0 432.8,304.8 433.5,304.6 434.1,304.4 434.8,304.3 435.5,304.3 436.2,304.2 436.9,304.2 437.6,304.3 438.4,304.3 439.1,304.4 439.8,304.6 440.5,304.7 441.2,304.9 441.9,305.1 442.5,305.3 443.2,305.6 443.8,305.8 444.4,306.1 445.1,306.5 445.7,306.9 446.3,307.3 446.9,307.8 447.6,308.2 448.2,308.8 448.8,309.3 449.5,309.9 450.1,310.4 450.8,310.9 451.5,311.5 452.2,312.0 452.9,312.4 453.6,312.9 454.4,313.4 455.2,313.8 456.0,314.2 456.8,314.5 457.7,314.8 458.7,315.0 459.6,315.2 460.6,315.4 461.7,315.4 463.7,315.5 466.9,315.5 471.0,315.5 476.2,315.4 482.4,315.3 489.7,315.1 498.0,314.9 507.3,314.7 516.1,314.4 524.4,314.2 532.1,314.0 539.2,313.8 545.9,313.6 552.0,313.4 557.5,313.2 562.5,313.1 567.2,312.9 571.6,312.7 575.6,312.5 579.4,312.4 582.8,312.2 585.9,312.0 588.8,311.8 591.2,311.5 593.6,311.3 595.9,311.1 598.0,310.9 600.0,310.6 601.9,310.4 603.6,310.1 605.2,309.8 606.8,309.6 608.2,309.3 609.5,309.0 610.8,308.6 611.9,308.3 613.0,307.9 614.0,307.5 614.9,307.1 615.8,306.6 616.5,306.2 617.1,305.9 617.7,305.6 618.1,305.4 618.4,305.3 618.6,305.2 618.7,305.1 618.7,309.3 618.6,309.4 618.4,309.5 618.1,309.6 617.7,309.8 617.1,310.1 616.5,310.4 615.8,310.8 614.9,311.3 614.0,311.7 613.0,312.1 611.9,312.5 610.8,312.8 609.5,313.2 608.2,313.5 606.8,313.8 605.2,314.0 603.6,314.3 601.9,314.6 600.0,314.8 598.0,315.1 595.9,315.3 593.6,315.5 591.2,315.7 588.8,316.0 585.9,316.2 582.8,316.4 579.4,316.6 575.6,316.7 571.6,316.9 567.2,317.1 562.5,317.3 557.5,317.4 552.0,317.6 545.9,317.8 539.2,318.0 532.1,318.2 524.4,318.4 516.1,318.6 507.3,318.9 498.0,319.1 489.7,319.3 482.4,319.5 476.2,319.6 471.0,319.7 466.9,319.7 463.7,319.7 461.7,319.6 460.6,319.6 459.6,319.4 458.7,319.2 457.7,319.0 456.8,318.7 456.0,318.4 455.2,318.0 454.4,317.6 453.6,317.1 452.9,316.6 452.2,316.2 451.5,315.7 450.8,315.1 450.1,314.6 449.5,314.1 448.8,313.5 448.2,313.0 447.6,312.4 446.9,312.0 446.3,311.5 445.7,311.1 445.1,310.7 444.4,310.3 443.8,310.0 443.2,309.8 442.5,309.5 441.9,309.3 441.2,309.1 440.5,308.9 439.8,308.8 439.1,308.6 438.4,308.5 437.6,308.5 436.9,308.4 436.2,308.4 435.5,308.5 434.8,308.5 434.1,308.6 433.5,308.8 432.8,309.0 432.2,309.2 431.5,309.5 430.9,309.8 430.2,310.1 429.5,310.5 428.8,311.0 428.1,311.4 427.4,312.0 426.6,312.5 425.9,313.1 425.2,313.7 424.5,314.2 423.8,314.8 423.1,315.3 422.5,315.9 421.8,316.5 421.2,317.0 420.6,317.6 419.9,318.1 419.3,318.6 418.7,319.0 418.1,319.4 417.4,319.8 416.8,320.2 416.2,320.6 415.5,320.9 414.9,321.2 414.2,321.4 413.5,321.6 412.8,321.8 412.1,322.0 411.4,322.1 410.6,322.1 409.6,322.2 408.3,322.3 406.7,322.3 404.8,322.4 402.7,322.5 400.2,322.5 397.5,322.6 394.5,322.6 391.5,322.7 388.5,322.7 385.5,322.8 382.5,322.9 379.5,323.0 376.5,323.1 373.5,323.2 370.5,323.3 366.5,323.5 361.5,323.6 355.4,323.8 348.4,324.1 340.3,324.4 331.3,324.7 321.2,325.0 310.1,325.4 300.4,325.7 292.1,326.0 285.2,326.2 279.6,326.4 275.5,326.6 272.7,326.7 271.3,326.7" fill="#8dbdbd"/>
<polygon points="466.0,314.2 540.0,313.0 590.0,311.6 614.0,310.8 618.7,312.0 618.7,330.0 466.0,330.0" fill="#8dbdbd"/>
<rect x="422.4" y="262" width="26.4" height="16" fill="#c8f4f4"/>
<rect x="422.4" y="278" width="26.4" height="28" fill="url(#gneck)"/>
<path d="M422.4,278.5 Q435.6,275 448.8,278.5 V285 Q435.6,283 422.4,285 Z" fill="#dcfbfb"/>
<path d="M422.4,291.8 Q435.6,295.5 448.8,291.8 V299 Q435.6,301 422.4,299 Z" fill="#4d7878"/>
<polygon points="453.0,256.7 465.3,254.0 540.0,257.3 577.0,258.3 618.7,260.7 618.7,260.9 540.0,261.3 465.3,268.7" fill="#c8f0f0"/>
<polygon points="465.3,268.7 540.0,261.3 618.7,260.9 618.7,261.2 540.0,270.0 492.0,274.4 465.3,270.7 450.7,272.0" fill="#dcf9f9"/>
<polygon points="450.7,272.0 465.3,270.7 492.0,274.4 540.0,270.0 618.7,261.2 618.7,307.0 540.0,295.7 466.0,298.3 466.0,274.0" fill="#a9dbdb"/>
<path d="M277,274.3 H406 V295 H277 A6,10.35 0 0 1 277,274.3 Z" fill="url(#gslot)"/>
<path d="M466,274.3 H543 A8.4,10.35 0 0 1 543,295 H466 A7,10.35 0 0 1 466,274.3 Z" fill="url(#gslot)"/>
<rect x="466" y="271" width="26" height="3.5" fill="#c8f0f0"/>
<path d="M394,271 C404,271 416,275 422.4,279 V291.8 C416,295 404,299 394,299 Z" fill="#b4dede"/>
<path d="M398,273.5 C412,273.5 423,278 423,285 C423,292 412,296.5 398,296.5 Z" fill="url(#gslot)"/>
<path d="M398,273.5 C412,273.5 423,278 423,285 C423,292 412,296.5 398,296.5 M408,276.5 L422.4,285 L408,293.5 M394,274 V296" fill="none" stroke="#2f5a5c" stroke-width="0.8"/>
<path d="M448.8,279 C452,276.5 455.5,274.5 459.5,273.8 V295.5 C455.5,294.8 452,293.5 448.8,291.8 Z" fill="#a6d4d4"/>
<path d="M459.5,276 L448.8,285 L459.5,294" fill="none" stroke="#2f5a5c" stroke-width="0.8"/>
</g>
<polygon points="264.5,285.0 264.5,270.0 264.9,264.0 265.9,258.0 267.4,252.0 269.2,247.0 271.3,243.3 272.7,243.3 275.5,243.4 279.6,243.6 285.2,243.8 292.1,244.0 300.4,244.3 310.1,244.6 321.2,245.0 331.3,245.3 340.3,245.6 348.4,245.9 355.4,246.2 361.5,246.4 366.5,246.5 370.5,246.7 373.5,246.8 376.5,246.9 379.5,247.0 382.5,247.1 385.5,247.2 388.5,247.3 391.5,247.3 394.5,247.4 397.5,247.4 400.2,247.5 402.7,247.5 404.8,247.6 406.7,247.7 408.3,247.7 409.6,247.8 410.6,247.9 411.4,247.9 412.1,248.0 412.8,248.2 413.5,248.4 414.2,248.6 414.9,248.8 415.5,249.1 416.2,249.4 416.8,249.8 417.4,250.2 418.1,250.6 418.7,251.0 419.3,251.4 419.9,251.9 420.6,252.4 421.2,253.0 421.8,253.5 422.5,254.1 423.1,254.7 423.8,255.2 424.5,255.8 425.2,256.3 425.9,256.9 426.6,257.5 427.4,258.0 428.1,258.6 428.8,259.0 429.5,259.5 430.2,259.9 430.9,260.2 431.5,260.5 432.2,260.8 432.8,261.0 433.5,261.2 434.1,261.4 434.8,261.5 435.5,261.5 436.2,261.6 436.9,261.6 437.6,261.5 438.4,261.5 439.1,261.4 439.8,261.2 440.5,261.1 441.2,260.9 441.9,260.7 442.5,260.5 443.2,260.2 443.8,260.0 444.4,259.7 445.1,259.3 445.7,258.9 446.3,258.5 446.9,258.0 447.6,257.6 448.2,257.0 448.8,256.5 449.5,255.9 450.1,255.4 450.8,254.9 451.5,254.3 452.2,253.8 452.9,253.4 453.6,252.9 454.4,252.4 455.2,252.0 456.0,251.6 456.8,251.3 457.7,251.0 458.7,250.8 459.6,250.6 460.6,250.4 461.7,250.3 463.7,250.3 466.9,250.3 471.0,250.3 476.2,250.4 482.4,250.5 489.7,250.7 498.0,250.9 507.3,251.1 516.1,251.4 524.4,251.6 532.1,251.8 539.2,252.0 545.9,252.2 552.0,252.4 557.5,252.6 562.5,252.7 567.2,252.9 571.6,253.1 575.6,253.3 579.4,253.4 582.8,253.6 585.9,253.8 588.8,254.0 591.2,254.3 593.6,254.5 595.9,254.7 598.0,254.9 600.0,255.2 601.9,255.4 603.6,255.7 605.2,256.0 606.8,256.2 608.2,256.5 609.5,256.8 610.8,257.2 611.9,257.5 613.0,257.9 614.0,258.3 614.9,258.7 615.8,259.2 616.5,259.6 617.1,259.9 617.7,260.2 618.1,260.4 618.4,260.5 618.6,260.6 618.7,260.7 618.7,309.3 618.7,309.3 618.6,309.4 618.4,309.5 618.1,309.6 617.7,309.8 617.1,310.1 616.5,310.4 615.8,310.8 614.9,311.3 614.0,311.7 613.0,312.1 611.9,312.5 610.8,312.8 609.5,313.2 608.2,313.5 606.8,313.8 605.2,314.0 603.6,314.3 601.9,314.6 600.0,314.8 598.0,315.1 595.9,315.3 593.6,315.5 591.2,315.7 588.8,316.0 585.9,316.2 582.8,316.4 579.4,316.6 575.6,316.7 571.6,316.9 567.2,317.1 562.5,317.3 557.5,317.4 552.0,317.6 545.9,317.8 539.2,318.0 532.1,318.2 524.4,318.4 516.1,318.6 507.3,318.9 498.0,319.1 489.7,319.3 482.4,319.5 476.2,319.6 471.0,319.7 466.9,319.7 463.7,319.7 461.7,319.6 460.6,319.6 459.6,319.4 458.7,319.2 457.7,319.0 456.8,318.7 456.0,318.4 455.2,318.0 454.4,317.6 453.6,317.1 452.9,316.6 452.2,316.2 451.5,315.7 450.8,315.1 450.1,314.6 449.5,314.1 448.8,313.5 448.2,313.0 447.6,312.4 446.9,312.0 446.3,311.5 445.7,311.1 445.1,310.7 444.4,310.3 443.8,310.0 443.2,309.8 442.5,309.5 441.9,309.3 441.2,309.1 440.5,308.9 439.8,308.8 439.1,308.6 438.4,308.5 437.6,308.5 436.9,308.4 436.2,308.4 435.5,308.5 434.8,308.5 434.1,308.6 433.5,308.8 432.8,309.0 432.2,309.2 431.5,309.5 430.9,309.8 430.2,310.1 429.5,310.5 428.8,311.0 428.1,311.4 427.4,312.0 426.6,312.5 425.9,313.1 425.2,313.7 424.5,314.2 423.8,314.8 423.1,315.3 422.5,315.9 421.8,316.5 421.2,317.0 420.6,317.6 419.9,318.1 419.3,318.6 418.7,319.0 418.1,319.4 417.4,319.8 416.8,320.2 416.2,320.6 415.5,320.9 414.9,321.2 414.2,321.4 413.5,321.6 412.8,321.8 412.1,322.0 411.4,322.1 410.6,322.1 409.6,322.2 408.3,322.3 406.7,322.3 404.8,322.4 402.7,322.5 400.2,322.5 397.5,322.6 394.5,322.6 391.5,322.7 388.5,322.7 385.5,322.8 382.5,322.9 379.5,323.0 376.5,323.1 373.5,323.2 370.5,323.3 366.5,323.5 361.5,323.6 355.4,323.8 348.4,324.1 340.3,324.4 331.3,324.7 321.2,325.0 310.1,325.4 300.4,325.7 292.1,326.0 285.2,326.2 279.6,326.4 275.5,326.6 272.7,326.7 271.3,326.7 269.2,323.0 267.4,318.0 265.9,312.0 264.9,306.0 264.5,300.0" fill="none" stroke="#2f5a5c" stroke-width="0.9"/>
<polyline points="271.3,248.1 272.7,248.1 275.5,248.2 279.6,248.4 285.2,248.6 292.1,248.8 300.4,249.1 310.1,249.4 321.2,249.8 331.3,250.1 340.3,250.4 348.4,250.7 355.4,251.0 361.5,251.2 366.5,251.3 370.5,251.5 373.5,251.6 376.5,251.7 379.5,251.8 382.5,251.9 385.5,252.0 388.5,252.1 391.5,252.1 394.5,252.2 397.5,252.2 400.2,252.3 402.7,252.3 404.8,252.4 406.7,252.5 408.3,252.5 409.6,252.6 410.6,252.7 411.4,252.7 412.1,252.8 412.8,253.0 413.5,253.2 414.2,253.4 414.9,253.6 415.5,253.9 416.2,254.2 416.8,254.6 417.4,255.0 418.1,255.4 418.7,255.8 419.3,256.2 419.9,256.7 420.6,257.2 421.2,257.8 421.8,258.3 422.5,258.9 423.1,259.5 423.8,260.0 424.5,260.6 425.2,261.1 425.9,261.7 426.6,262.3 427.4,262.8 428.1,263.4 428.8,263.8 429.5,264.3 430.2,264.7 430.9,265.0 431.5,265.3 432.2,265.6 432.8,265.8 433.5,266.0 434.1,266.2 434.8,266.3 435.5,266.3 436.2,266.4 436.9,266.4 437.6,266.3 438.4,266.3 439.1,266.2 439.8,266.0 440.5,265.9 441.2,265.7 441.9,265.5 442.5,265.3 443.2,265.0 443.8,264.8 444.4,264.5 445.1,264.1 445.7,263.7 446.3,263.3 446.9,262.8 447.6,262.4 448.2,261.8 448.8,261.3 449.5,260.7 450.1,260.2 450.8,259.7 451.5,259.1 452.2,258.6 452.9,258.2 453.0,256.7 465.3,254.0 540.0,257.3 577.0,258.3 618.7,260.7" fill="none" stroke="#2f5a5c" stroke-width="0.9"/>
<polyline points="279.0,248.2" fill="none" stroke="#2f5a5c" stroke-width="0.9"/>
<polyline points="262.0,258.7 279.0,259.0 360.0,261.7 384.0,262.3 394.0,264.0 402.0,268.0 410.0,273.5 416.0,277.5 422.4,279.0" fill="none" stroke="#2f5a5c" stroke-width="0.9"/>
<polyline points="262.0,266.3 279.0,266.5 360.0,270.0 384.0,270.3 392.0,271.5 400.0,275.0 406.0,279.0 412.0,283.0" fill="none" stroke="#2f5a5c" stroke-width="0.9"/>
<polyline points="465.3,268.7 540.0,261.3 618.7,260.9" fill="none" stroke="#2f5a5c" stroke-width="0.9"/>
<polyline points="450.7,272.0 465.3,270.7 492.0,274.4 540.0,270.0 618.7,261.2" fill="none" stroke="#2f5a5c" stroke-width="0.9"/>
<polyline points="271.3,322.5 272.7,322.5 275.5,322.4 279.6,322.2 285.2,322.0 292.1,321.8 300.4,321.5 310.1,321.2 321.2,320.8 331.3,320.5 340.3,320.2 348.4,319.9 355.4,319.6 361.5,319.4 366.5,319.3 370.5,319.1 373.5,319.0 376.5,318.9 379.5,318.8 382.5,318.7 385.5,318.6 388.5,318.5 391.5,318.5 394.5,318.4 397.5,318.4 400.2,318.3 402.7,318.3 404.8,318.2 406.7,318.1 408.3,318.1 409.6,318.0 410.6,317.9 411.4,317.9 412.1,317.8 412.8,317.6 413.5,317.4 414.2,317.2 414.9,317.0 415.5,316.7 416.2,316.4 416.8,316.0 417.4,315.6 418.1,315.2 418.7,314.8 419.3,314.4 419.9,313.9 420.6,313.4 421.2,312.8 421.8,312.3 422.5,311.7 423.1,311.1 423.8,310.6 424.5,310.0 425.2,309.5 425.9,308.9 426.6,308.3 427.4,307.8 428.1,307.2 428.8,306.8 429.5,306.3 430.2,305.9 430.9,305.6 431.5,305.3 432.2,305.0 432.8,304.8 433.5,304.6 434.1,304.4 434.8,304.3 435.5,304.3 436.2,304.2 436.9,304.2 437.6,304.3 438.4,304.3 439.1,304.4 439.8,304.6 440.5,304.7 441.2,304.9 441.9,305.1 442.5,305.3 443.2,305.6 443.8,305.8 444.4,306.1 445.1,306.5 445.7,306.9 446.3,307.3 446.9,307.8 447.6,308.2 448.2,308.8 448.8,309.3 449.5,309.9 450.1,310.4 450.8,310.9 451.5,311.5 452.2,312.0 452.9,312.4 453.6,312.9 454.4,313.4 455.2,313.8 456.0,314.2 456.8,314.5 457.7,314.8 458.7,315.0 459.6,315.2 460.6,315.4 461.7,315.4 463.7,315.5 466.9,315.5 471.0,315.5 476.2,315.4 482.4,315.3 489.7,315.1 498.0,314.9 507.3,314.7 516.1,314.4 524.4,314.2 532.1,314.0 539.2,313.8 545.9,313.6 552.0,313.4 557.5,313.2 562.5,313.1 567.2,312.9 571.6,312.7 575.6,312.5 579.4,312.4 582.8,312.2 585.9,312.0 588.8,311.8 591.2,311.5 593.6,311.3 595.9,311.1 598.0,310.9 600.0,310.6 601.9,310.4 603.6,310.1 605.2,309.8 606.8,309.6 608.2,309.3 609.5,309.0 610.8,308.6 611.9,308.3 613.0,307.9 614.0,307.5 614.9,307.1 615.8,306.6 616.5,306.2 617.1,305.9 617.7,305.6 618.1,305.4 618.4,305.3 618.6,305.2 618.7,305.1" fill="none" stroke="#2f5a5c" stroke-width="0.9"/>
<polyline points="262,302 384,301 400,299 412,294" fill="none" stroke="#2f5a5c" stroke-width="0.9"/>
<polyline points="466,298.3 540,295.7 618.7,307" fill="none" stroke="#2f5a5c" stroke-width="0.9"/>
<path d="M618.7,260.7 V308.3 M422.4,262 V306 M448.8,262 V306 M406.5,248 V320 M466,250 V320 M384,221 V268 M394,221 V270 M412,221 V248 M418.7,221 V249.7 M384,300 V348.6 M394,302 V348.6 M412,320 V347.3 M418.7,318 V346.8 M266.5,221 V256 M266.5,314 V348.6 M270.6,221 V243.5 M270.6,326.5 V348.6 M279,221 V244.5 M279,325.5 V348.6 M577.5,253 V257.5 M578,312 V316.5 M492,274.4 V295" fill="none" stroke="#2f5a5c" stroke-width="0.9"/>
<path d="M277,274.3 H406 M277,295 H406 M277,274.3 A6,10.35 0 0 0 277,295 M279,244.5 C278,250 275.5,257 273,262.5 C271.5,266 271,269 271,274 V296 C271,301 271.5,304 273,307.5 C275.5,313 278,320 279,325.5 M266.5,254.5 L274.5,258.5 M266.5,315.5 L274.5,311.5 M466,274.3 H543 M466,295 H543 M543,274.3 A8.4,10.35 0 0 1 543,295 M466,274.3 A7,10.35 0 0 0 466,295 M544.2,274.3 V295 M465.5,274.3 V295 M422.4,278.5 Q435.6,275 448.8,278.5 M422.4,291.8 Q435.6,295.5 448.8,291.8" fill="none" stroke="#2f5a5c" stroke-width="0.9"/>
<path d="M168.2,175.3 H231 V394.6 H169 L134,351.5 V218.5 Z" fill="#3898f2" stroke="#184a90" stroke-width="0.8"/>
<rect x="211.4" y="175.3" width="19.6" height="219.3" fill="#2b78d8"/>
<path d="M212.5,175.3 V394.6 M219.5,175.3 V394.6 M221,175.3 V394.6" stroke="#1b4a98" stroke-width="0.9"/>
<path d="M228.5,221 H219 Q212,221 212,228 V342 Q212,349 219,349 H228.5 Z" fill="#fff" stroke="#2a3a50" stroke-width="0.8"/>
<rect x="231.5" y="175.2" width="37.2" height="45.3" fill="url(#kn)" stroke="#163c78" stroke-width="0.9"/>
<rect x="230.5" y="349" width="38.5" height="45.6" fill="url(#kn)" stroke="#163c78" stroke-width="0.9"/>
<rect x="228.5" y="221" width="38" height="128" fill="url(#knc)" stroke="#3a6466" stroke-width="0.9"/>
<path d="M235,163.3 H262.5 Q265.5,163.3 265.5,166.3 V175.2 H232 V166.3 Q232,163.3 235,163.3 Z" fill="#fba614" stroke="#6a3a04" stroke-width="0.9"/>
<path d="M232.5,166.3 Q232.5,163.8 235,163.8 H240.3 V174.8 H232.5 Z" fill="#d8860c"/>
<path d="M240.3,163.3 V175.2 M257.3,163.3 V175.2" stroke="#7a4a08" stroke-width="0.8"/>
<rect x="240" y="410.2" width="17.6" height="6.6" rx="2.5" fill="#f5a012" stroke="#5a3204" stroke-width="0.9"/>
<rect x="232" y="396.5" width="33.5" height="13.7" rx="2.8" fill="#a4eea0" stroke="#1f3a1f" stroke-width="0.9"/>
<path d="M232.5,399 Q232.5,397 234.8,397 H240.3 V409.7 H234.8 Q232.5,409.7 232.5,407.5 Z" fill="#76c278"/>
<path d="M257.3,397 H262.8 Q265,397 265,399 V407.5 Q265,409.7 262.8,409.7 H257.3 Z" fill="#8edc8c"/>
<path d="M240.3,396.5 V410.2 M257.3,396.5 V410.2" stroke="#2a4a2a" stroke-width="0.8"/>
<circle cx="191.2" cy="196.9" r="9.2" fill="#fff" stroke="#2a2a2a" stroke-width="0.9"/>
<path d="M151.1,196.9 H208.2 M191.2,179.9 V213.9" stroke="#000" stroke-opacity="0.7" stroke-width="0.9" stroke-dasharray="5 1.8 2.5 1.8"/>
<circle cx="158.3" cy="233.8" r="9.2" fill="#fff" stroke="#2a2a2a" stroke-width="0.9"/>
<path d="M134.0,233.8 H175.3 M158.3,216.8 V250.8" stroke="#000" stroke-opacity="0.7" stroke-width="0.9" stroke-dasharray="5 1.8 2.5 1.8"/>
<circle cx="158.3" cy="336.2" r="9.2" fill="#fff" stroke="#2a2a2a" stroke-width="0.9"/>
<path d="M134.0,336.2 H175.3 M158.3,319.2 V381.4" stroke="#000" stroke-opacity="0.7" stroke-width="0.9" stroke-dasharray="5 1.8 2.5 1.8"/>
<circle cx="191.4" cy="373.1" r="9.2" fill="#fff" stroke="#2a2a2a" stroke-width="0.9"/>
<path d="M151.5,373.1 H208.4 M191.4,356.1 V394.6" stroke="#000" stroke-opacity="0.7" stroke-width="0.9" stroke-dasharray="5 1.8 2.5 1.8"/>
<circle cx="435.4" cy="245.2" r="9.2" fill="#fff" stroke="#2a2a2a" stroke-width="0.9"/>
<path d="M418.4,245.2 H452.4 M435.4,228.2 V262.2" stroke="#000" stroke-opacity="0.7" stroke-width="0.9" stroke-dasharray="5 1.8 2.5 1.8"/>
<circle cx="435.4" cy="324.2" r="9.2" fill="#fff" stroke="#2a2a2a" stroke-width="0.9"/>
<path d="M418.4,324.2 H452.4 M435.4,307.2 V346.7" stroke="#000" stroke-opacity="0.7" stroke-width="0.9" stroke-dasharray="5 1.8 2.5 1.8"/>
<circle cx="634.6" cy="284.6" r="9.2" fill="#fff" stroke="#2a2a2a" stroke-width="0.9"/>
<path d="M617.6,284.6 H651.6 M634.6,262.6 V335.6" stroke="#000" stroke-opacity="0.7" stroke-width="0.9" stroke-dasharray="5 1.8 2.5 1.8"/>
<line x1="126" y1="285" x2="667" y2="285" stroke="#000" stroke-width="1.0" stroke-dasharray="8.5 2.8 4.2 2.8" stroke-opacity="0.56" shape-rendering="crispEdges"/>
<line x1="248.6" y1="150" x2="248.6" y2="430" stroke="#000" stroke-width="1.0" stroke-dasharray="8.5 2.8 4.2 2.8" stroke-opacity="0.56" shape-rendering="crispEdges"/>
<line x1="42.2" y1="174.4" x2="168" y2="174.4" stroke="#5c5c5c" stroke-width="1.0"  shape-rendering="crispEdges"/>
<line x1="64.5" y1="196.9" x2="151.1" y2="196.9" stroke="#5c5c5c" stroke-width="1.0"  shape-rendering="crispEdges"/>
<line x1="85.4" y1="218.5" x2="130" y2="218.5" stroke="#5c5c5c" stroke-width="1.0"  shape-rendering="crispEdges"/>
<line x1="107.4" y1="233.8" x2="134" y2="233.8" stroke="#5c5c5c" stroke-width="1.0"  shape-rendering="crispEdges"/>
<line x1="107.4" y1="336.2" x2="134" y2="336.2" stroke="#5c5c5c" stroke-width="1.0"  shape-rendering="crispEdges"/>
<line x1="85.4" y1="351.5" x2="130" y2="351.5" stroke="#5c5c5c" stroke-width="1.0"  shape-rendering="crispEdges"/>
<line x1="64.5" y1="373.1" x2="151.5" y2="373.1" stroke="#5c5c5c" stroke-width="1.0"  shape-rendering="crispEdges"/>
<line x1="42.2" y1="394.6" x2="168" y2="394.6" stroke="#5c5c5c" stroke-width="1.0"  shape-rendering="crispEdges"/>
<line x1="49.5" y1="175.4" x2="49.5" y2="393.6" stroke="#5c5c5c" stroke-width="1.0"  shape-rendering="crispEdges"/>
<path d="M49.50,174.90 L51.55,181.90 L47.45,181.90 Z" fill="#1a1a1a"/>
<path d="M49.50,394.10 L47.45,387.10 L51.55,387.10 Z" fill="#1a1a1a"/>
<line x1="71.2" y1="197.9" x2="71.2" y2="372.1" stroke="#5c5c5c" stroke-width="1.0"  shape-rendering="crispEdges"/>
<path d="M71.20,197.40 L73.25,204.40 L69.15,204.40 Z" fill="#1a1a1a"/>
<path d="M71.20,372.60 L69.15,365.60 L73.25,365.60 Z" fill="#1a1a1a"/>
<line x1="92.5" y1="219.5" x2="92.5" y2="350.5" stroke="#5c5c5c" stroke-width="1.0"  shape-rendering="crispEdges"/>
<path d="M92.50,219.00 L94.55,226.00 L90.45,226.00 Z" fill="#1a1a1a"/>
<path d="M92.50,351.00 L90.45,344.00 L94.55,344.00 Z" fill="#1a1a1a"/>
<line x1="114.2" y1="234.8" x2="114.2" y2="335.2" stroke="#5c5c5c" stroke-width="1.0"  shape-rendering="crispEdges"/>
<path d="M114.20,234.30 L116.25,241.30 L112.15,241.30 Z" fill="#1a1a1a"/>
<path d="M114.20,335.70 L112.15,328.70 L116.25,328.70 Z" fill="#1a1a1a"/>
<g fill="none" stroke="#5c5c5c" stroke-width="0.95" stroke-linecap="round" stroke-linejoin="round" transform="translate(32.20,298.60) rotate(-90)">
<path transform="translate(0.00,0) scale(1.044,1.044)" d="M3,0 V9" vector-effect="non-scaling-stroke"/>
<path transform="translate(9.80,0) scale(1.044,1.044)" d="M3,0 C-1,0 -1,9 3,9 C7,9 7,0 3,0 Z" vector-effect="non-scaling-stroke"/>
<path transform="translate(19.60,0) scale(1.044,1.044)" d="M3,0 C-1,0 -1,9 3,9 C7,9 7,0 3,0 Z" vector-effect="non-scaling-stroke"/>
</g>
<g fill="none" stroke="#5c5c5c" stroke-width="0.95" stroke-linecap="round" stroke-linejoin="round" transform="translate(54.40,293.80) rotate(-90)">
<path transform="translate(0.00,0) scale(0.978,0.978)" d="M3,4.2 C1.3,4.2 0.4,3.3 0.4,2.1 C0.4,0.8 1.5,0 3,0 C4.5,0 5.6,0.8 5.6,2.1 C5.6,3.3 4.7,4.2 3,4.2 C1,4.2 0,5.3 0,6.6 C0,8 1.3,9 3,9 C4.7,9 6,8 6,6.6 C6,5.3 5,4.2 3,4.2 Z" vector-effect="non-scaling-stroke"/>
<path transform="translate(9.60,0) scale(0.978,0.978)" d="M3,0 C-1,0 -1,9 3,9 C7,9 7,0 3,0 Z" vector-effect="non-scaling-stroke"/>
</g>
<g fill="none" stroke="#5c5c5c" stroke-width="0.95" stroke-linecap="round" stroke-linejoin="round" transform="translate(76.00,293.60) rotate(-90)">
<path transform="translate(0.00,0) scale(0.967,0.967)" d="M5.6,1.1 C5,0.4 4.1,0 3,0 C1,0 0,1.9 0,4.8 C0,7.5 1,9 3,9 C4.8,9 6,7.8 6,6.1 C6,4.4 4.8,3.3 3,3.3 C1.4,3.3 0.3,4.3 0,5.5" vector-effect="non-scaling-stroke"/>
<path transform="translate(9.40,0) scale(0.967,0.967)" d="M3,0 C-1,0 -1,9 3,9 C7,9 7,0 3,0 Z" vector-effect="non-scaling-stroke"/>
</g>
<g fill="none" stroke="#5c5c5c" stroke-width="0.95" stroke-linecap="round" stroke-linejoin="round" transform="translate(97.60,294.00) rotate(-90)">
<path transform="translate(0.00,0) scale(1.000,1.000)" d="M4.6,9 V0 L0,6.4 H6" vector-effect="non-scaling-stroke"/>
<path transform="translate(9.50,0) scale(1.000,1.000)" d="M5.6,1.1 C5,0.4 4.1,0 3,0 C1,0 0,1.9 0,4.8 C0,7.5 1,9 3,9 C4.8,9 6,7.8 6,6.1 C6,4.4 4.8,3.3 3,3.3 C1.4,3.3 0.3,4.3 0,5.5" vector-effect="non-scaling-stroke"/>
</g>
<line x1="388" y1="221" x2="732" y2="221" stroke="#5c5c5c" stroke-width="1.0"  shape-rendering="crispEdges"/>
<line x1="655.5" y1="234" x2="711.6" y2="234" stroke="#5c5c5c" stroke-width="1.0"  shape-rendering="crispEdges"/>
<line x1="445" y1="245.2" x2="693" y2="245.2" stroke="#3a5a5c" stroke-width="1.0"  shape-rendering="crispEdges"/>
<line x1="445" y1="324.1" x2="693" y2="324.1" stroke="#3a5a5c" stroke-width="1.0"  shape-rendering="crispEdges"/>
<line x1="655.5" y1="335.4" x2="711.6" y2="335.4" stroke="#5c5c5c" stroke-width="1.0"  shape-rendering="crispEdges"/>
<line x1="388" y1="348.6" x2="732" y2="348.6" stroke="#5c5c5c" stroke-width="1.0"  shape-rendering="crispEdges"/>
<line x1="685" y1="246.2" x2="685" y2="323.1" stroke="#5c5c5c" stroke-width="1.0"  shape-rendering="crispEdges"/>
<path d="M685.00,245.70 L687.05,252.70 L682.95,252.70 Z" fill="#1a1a1a"/>
<path d="M685.00,323.60 L682.95,316.60 L687.05,316.60 Z" fill="#1a1a1a"/>
<line x1="704.8" y1="235" x2="704.8" y2="334.4" stroke="#5c5c5c" stroke-width="1.0"  shape-rendering="crispEdges"/>
<path d="M704.80,234.50 L706.85,241.50 L702.75,241.50 Z" fill="#1a1a1a"/>
<path d="M704.80,334.90 L702.75,327.90 L706.85,327.90 Z" fill="#1a1a1a"/>
<line x1="725.2" y1="222" x2="725.2" y2="347.6" stroke="#5c5c5c" stroke-width="1.0"  shape-rendering="crispEdges"/>
<path d="M725.20,221.50 L727.25,228.50 L723.15,228.50 Z" fill="#1a1a1a"/>
<path d="M725.20,348.10 L723.15,341.10 L727.25,341.10 Z" fill="#1a1a1a"/>
<g fill="none" stroke="#5c5c5c" stroke-width="0.95" stroke-linecap="round" stroke-linejoin="round" transform="translate(668.40,294.00) rotate(-90)">
<path transform="translate(0.00,0) scale(0.978,0.978)" d="M0.2,1.3 C0.8,0.4 1.8,0 3,0 C4.8,0 5.8,1 5.8,2.2 C5.8,3.5 4.6,4.3 2.6,4.3 C4.8,4.3 6,5.2 6,6.6 C6,8.1 4.7,9 3,9 C1.6,9 0.6,8.5 0,7.6" vector-effect="non-scaling-stroke"/>
<path transform="translate(10.00,0) scale(0.978,0.978)" d="M5.6,1.1 C5,0.4 4.1,0 3,0 C1,0 0,1.9 0,4.8 C0,7.5 1,9 3,9 C4.8,9 6,7.8 6,6.1 C6,4.4 4.8,3.3 3,3.3 C1.4,3.3 0.3,4.3 0,5.5" vector-effect="non-scaling-stroke"/>
</g>
<g fill="none" stroke="#5c5c5c" stroke-width="0.95" stroke-linecap="round" stroke-linejoin="round" transform="translate(688.00,294.00) rotate(-90)">
<path transform="translate(0.00,0) scale(0.978,0.978)" d="M4.6,9 V0 L0,6.4 H6" vector-effect="non-scaling-stroke"/>
<path transform="translate(10.00,0) scale(0.978,0.978)" d="M5.6,1.1 C5,0.4 4.1,0 3,0 C1,0 0,1.9 0,4.8 C0,7.5 1,9 3,9 C4.8,9 6,7.8 6,6.1 C6,4.4 4.8,3.3 3,3.3 C1.4,3.3 0.3,4.3 0,5.5" vector-effect="non-scaling-stroke"/>
</g>
<g fill="none" stroke="#5c5c5c" stroke-width="0.95" stroke-linecap="round" stroke-linejoin="round" transform="translate(708.00,294.00) rotate(-90)">
<path transform="translate(0.00,0) scale(1.022,1.022)" d="M5.6,0 H1 L0.5,4 C1.2,3.5 2,3.2 3,3.2 C4.8,3.2 6,4.4 6,6.1 C6,7.9 4.7,9 3,9 C1.6,9 0.6,8.5 0,7.6" vector-effect="non-scaling-stroke"/>
<path transform="translate(10.00,0) scale(1.022,1.022)" d="M3,4.2 C1.3,4.2 0.4,3.3 0.4,2.1 C0.4,0.8 1.5,0 3,0 C4.5,0 5.6,0.8 5.6,2.1 C5.6,3.3 4.7,4.2 3,4.2 C1,4.2 0,5.3 0,6.6 C0,8 1.3,9 3,9 C4.7,9 6,8 6,6.6 C6,5.3 5,4.2 3,4.2 Z" vector-effect="non-scaling-stroke"/>
</g>
<line x1="134" y1="350" x2="134" y2="468.8" stroke="#5c5c5c" stroke-width="1.0"  shape-rendering="crispEdges"/>
<line x1="158.3" y1="381.4" x2="158.3" y2="443" stroke="#5c5c5c" stroke-width="1.0"  shape-rendering="crispEdges"/>
<line x1="191.4" y1="394.6" x2="191.4" y2="443" stroke="#5c5c5c" stroke-width="1.0"  shape-rendering="crispEdges"/>
<line x1="435.4" y1="346.7" x2="435.4" y2="442.7" stroke="#5c5c5c" stroke-width="1.0"  shape-rendering="crispEdges"/>
<line x1="634.6" y1="335.6" x2="634.6" y2="443" stroke="#5c5c5c" stroke-width="1.0"  shape-rendering="crispEdges"/>
<line x1="652.5" y1="335" x2="652.5" y2="468.8" stroke="#5c5c5c" stroke-width="1.0"  shape-rendering="crispEdges"/>
<line x1="135" y1="436.8" x2="157.3" y2="436.8" stroke="#5c5c5c" stroke-width="1.0"  shape-rendering="crispEdges"/>
<path d="M134.50,436.80 L141.50,434.75 L141.50,438.85 Z" fill="#1a1a1a"/>
<path d="M157.80,436.80 L150.80,438.85 L150.80,434.75 Z" fill="#1a1a1a"/>
<line x1="159.3" y1="436.8" x2="190.4" y2="436.8" stroke="#5c5c5c" stroke-width="1.0"  shape-rendering="crispEdges"/>
<path d="M158.80,436.80 L165.80,434.75 L165.80,438.85 Z" fill="#1a1a1a"/>
<path d="M190.90,436.80 L183.90,438.85 L183.90,434.75 Z" fill="#1a1a1a"/>
<line x1="192.4" y1="436.5" x2="435" y2="436.5" stroke="#5c5c5c" stroke-width="1.0"  shape-rendering="crispEdges"/>
<path d="M191.90,436.50 L198.90,434.45 L198.90,438.55 Z" fill="#1a1a1a"/>
<path d="M435.50,436.50 L428.50,438.55 L428.50,434.45 Z" fill="#1a1a1a"/>
<line x1="437" y1="436.5" x2="633.7" y2="436.5" stroke="#5c5c5c" stroke-width="1.0"  shape-rendering="crispEdges"/>
<path d="M436.50,436.50 L443.50,434.45 L443.50,438.55 Z" fill="#1a1a1a"/>
<path d="M634.20,436.50 L627.20,438.55 L627.20,434.45 Z" fill="#1a1a1a"/>
<line x1="135" y1="462" x2="651.5" y2="462" stroke="#5c5c5c" stroke-width="1.0"  shape-rendering="crispEdges"/>
<path d="M134.50,462.00 L141.50,459.95 L141.50,464.05 Z" fill="#1a1a1a"/>
<path d="M652.00,462.00 L645.00,464.05 L645.00,459.95 Z" fill="#1a1a1a"/>
<g fill="none" stroke="#5c5c5c" stroke-width="0.95" stroke-linecap="round" stroke-linejoin="round" transform="translate(137.50,419.80)">
<path transform="translate(0.00,0) scale(1.089,1.089)" d="M3,0 V9" vector-effect="non-scaling-stroke"/>
<path transform="translate(9.50,0) scale(1.089,1.089)" d="M3,0 V9" vector-effect="non-scaling-stroke"/>
</g>
<g fill="none" stroke="#5c5c5c" stroke-width="0.95" stroke-linecap="round" stroke-linejoin="round" transform="translate(165.80,419.80)">
<path transform="translate(0.00,0) scale(1.089,1.089)" d="M3,0 V9" vector-effect="non-scaling-stroke"/>
<path transform="translate(10.10,0) scale(1.089,1.089)" d="M5.6,0 H1 L0.5,4 C1.2,3.5 2,3.2 3,3.2 C4.8,3.2 6,4.4 6,6.1 C6,7.9 4.7,9 3,9 C1.6,9 0.6,8.5 0,7.6" vector-effect="non-scaling-stroke"/>
</g>
<g fill="none" stroke="#5c5c5c" stroke-width="0.95" stroke-linecap="round" stroke-linejoin="round" transform="translate(300.00,420.80)">
<path transform="translate(0.00,0) scale(0.944,0.944)" d="M3,0 V9" vector-effect="non-scaling-stroke"/>
<path transform="translate(9.85,0) scale(0.944,0.944)" d="M3,0 V9" vector-effect="non-scaling-stroke"/>
<path transform="translate(19.70,0) scale(0.944,0.944)" d="M3,0 V9" vector-effect="non-scaling-stroke"/>
</g>
<g fill="none" stroke="#5c5c5c" stroke-width="0.95" stroke-linecap="round" stroke-linejoin="round" transform="translate(526.00,420.00)">
<path transform="translate(0.00,0) scale(1.033,1.033)" d="M0.4,7.9 C1,8.6 1.9,9 3,9 C5,9 6,7.1 6,4.2 C6,1.5 5,0 3,0 C1.2,0 0,1.2 0,2.9 C0,4.6 1.2,5.7 3,5.7 C4.6,5.7 5.7,4.7 6,3.5" vector-effect="non-scaling-stroke"/>
<path transform="translate(10.40,0) scale(1.033,1.033)" d="M3,0 C-1,0 -1,9 3,9 C7,9 7,0 3,0 Z" vector-effect="non-scaling-stroke"/>
</g>
<g fill="none" stroke="#5c5c5c" stroke-width="0.95" stroke-linecap="round" stroke-linejoin="round" transform="translate(378.70,444.80)">
<path transform="translate(0.00,0) scale(1.100,1.100)" d="M0.2,2.2 C0.5,0.5 1.8,0 3,0 C4.6,0 5.8,0.9 5.8,2.4 C5.8,4.2 4,5.2 0,9 H6" vector-effect="non-scaling-stroke"/>
<path transform="translate(10.30,0) scale(1.100,1.100)" d="M0.2,1.3 C0.8,0.4 1.8,0 3,0 C4.8,0 5.8,1 5.8,2.2 C5.8,3.5 4.6,4.3 2.6,4.3 C4.8,4.3 6,5.2 6,6.6 C6,8.1 4.7,9 3,9 C1.6,9 0.6,8.5 0,7.6" vector-effect="non-scaling-stroke"/>
<path transform="translate(20.60,0) scale(1.100,1.100)" d="M5.6,0 H1 L0.5,4 C1.2,3.5 2,3.2 3,3.2 C4.8,3.2 6,4.4 6,6.1 C6,7.9 4.7,9 3,9 C1.6,9 0.6,8.5 0,7.6" vector-effect="non-scaling-stroke"/>
</g>
<line x1="450" y1="202.7" x2="525.3" y2="202.7" stroke="#333" stroke-width="1.0"  shape-rendering="crispEdges"/>
<line x1="450" y1="202.7" x2="432.5" y2="254.5" stroke="#333" stroke-width="1.0" />
<path d="M433.00,254.00 L433.40,247.80 L436.43,248.82 Z" fill="#1a1a1a"/>
<path d="M437.00,236.00 L436.60,242.20 L433.57,241.18 Z" fill="#1a1a1a"/>
<g fill="none" stroke="#5c5c5c" stroke-width="0.95" stroke-linecap="round" stroke-linejoin="round" transform="translate(454.70,185.70)">
<path transform="translate(0.00,0) scale(0.967,0.967)" d="M0,0 H6 C4,2.5 2.6,5.5 2,9" vector-effect="non-scaling-stroke"/>
<path transform="translate(11.00,0) scale(0.967,0.967)" d="M1,5 H4" vector-effect="non-scaling-stroke"/>
</g>
<g fill="none" stroke="#5c5c5c" stroke-width="0.95" stroke-linecap="round" stroke-linejoin="round" transform="translate(479.20,186.50)">
<path transform="translate(0.00,0) scale(0.950,0.911)" d="M4,0.5 C-1,0.5 -1,8.5 4,8.5 C9,8.5 9,0.5 4,0.5 Z M0.5,10.5 L7.5,-1.5" vector-effect="non-scaling-stroke"/>
</g>
<g fill="none" stroke="#5c5c5c" stroke-width="0.95" stroke-linecap="round" stroke-linejoin="round" transform="translate(496.70,185.70)">
<path transform="translate(0.00,0) scale(0.967,0.967)" d="M3,4.2 C1.3,4.2 0.4,3.3 0.4,2.1 C0.4,0.8 1.5,0 3,0 C4.5,0 5.6,0.8 5.6,2.1 C5.6,3.3 4.7,4.2 3,4.2 C1,4.2 0,5.3 0,6.6 C0,8 1.3,9 3,9 C4.7,9 6,8 6,6.6 C6,5.3 5,4.2 3,4.2 Z" vector-effect="non-scaling-stroke"/>
<path transform="translate(10.00,0) scale(0.967,0.967)" d="M3,8.3 V9.1" vector-effect="non-scaling-stroke"/>
<path transform="translate(20.00,0) scale(0.967,0.967)" d="M5.6,0 H1 L0.5,4 C1.2,3.5 2,3.2 3,3.2 C4.8,3.2 6,4.4 6,6.1 C6,7.9 4.7,9 3,9 C1.6,9 0.6,8.5 0,7.6" vector-effect="non-scaling-stroke"/>
</g>
</svg></body></html>
